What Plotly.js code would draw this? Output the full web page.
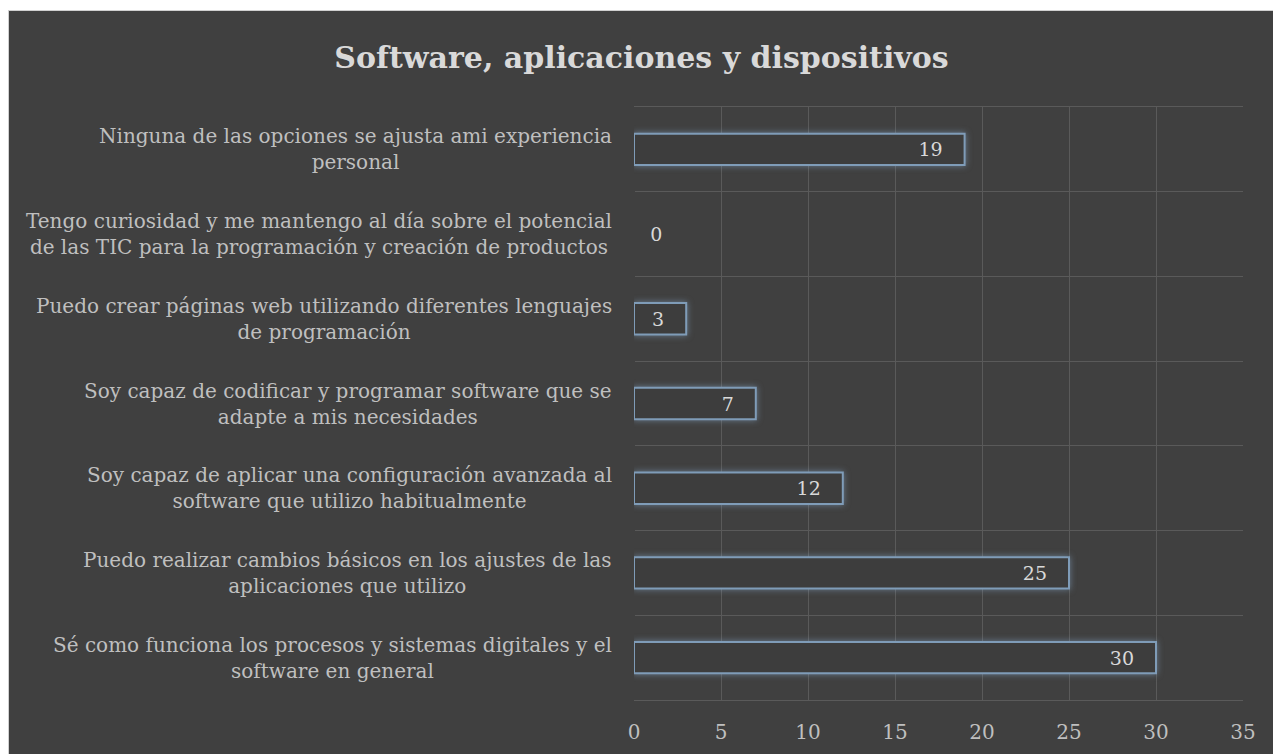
<!DOCTYPE html>
<html>
<head>
<meta charset="utf-8">
<script src="https://cdn.plot.ly/plotly-3.0.1.min.js"></script>
<style>
  html, body { margin: 0; padding: 0; background: #ffffff; overflow: hidden; width: 1273px; height: 754px; }
  #chart { position: absolute; left: 8px; top: 10px; width: 1265px; height: 744px;
           border-left: 1px solid #d0d0d0; border-top: 1px solid #d0d0d0; }
  #chart .bars .point path { filter: drop-shadow(0 0 3px rgba(140,175,210,0.55)); }
</style>
</head>
<body>
<div id="chart"></div>
<script>
const categories = [
  "Ninguna de las opciones se ajusta ami experiencia<br>personal",
  "Tengo curiosidad y me mantengo al día sobre el potencial<br>de las TIC para la programación y creación de productos",
  "Puedo crear páginas web utilizando diferentes lenguajes<br>de programación",
  "Soy capaz de codificar y programar software que se<br>adapte a mis necesidades",
  "Soy capaz de aplicar una configuración avanzada al<br>software que utilizo habitualmente",
  "Puedo realizar cambios básicos en los ajustes de las<br>aplicaciones que utilizo",
  "Sé como funciona los procesos y sistemas digitales y el<br>software en general"
];
const values = [19, 0, 3, 7, 12, 25, 30];
const xTicks = [0, 5, 10, 15, 20, 25, 30, 35];
const chartTitle = "Software, aplicaciones y dispositivos";

const FONT = "DejaVu Serif";
const textPos = values.map(v => v === 0 ? "outside" : "inside");
const labels = values.map(v => v === 0 ? "\u2002\u2009" + v : v + "\u2002\u2002");

const trace = {
  type: "bar",
  orientation: "h",
  y: categories,
  x: values,
  text: labels,
  textposition: textPos,
  insidetextanchor: "end",
  textfont: { family: FONT, size: 19, color: "#d9d9d9" },
  outsidetextfont: { family: FONT, size: 19, color: "#d9d9d9" },
  insidetextfont: { family: FONT, size: 19, color: "#d9d9d9" },
  cliponaxis: false,
  marker: { color: "#3d3d3d",
            line: { color: "#7f9cb8", width: values.map(v => v === 0 ? 0 : 2) } },
  hoverinfo: "none"
};

const annotations = categories.map(c => ({
  xref: "paper", yref: "y", x: 0, y: c, xanchor: "right", yanchor: "middle",
  xshift: -20, text: c, showarrow: false, align: "center",
  font: { family: FONT, size: 20, color: "#bfbfbf" }
}));

const layout = {
  width: 1265, height: 744,
  paper_bgcolor: "#404040", plot_bgcolor: "#404040",
  margin: { l: 625, r: 31, t: 96, b: 55 },
  title: { text: "<b>" + chartTitle + "</b>", x: 0.5, xanchor: "center", y: 0.937, yanchor: "middle",
           font: { family: FONT, size: 30, color: "#d9d9d9" } },
  bargap: 0.63,
  showlegend: false,
  xaxis: {
    range: [0, 35], tickvals: xTicks, ticktext: xTicks.map(String),
    showgrid: true, gridcolor: "#5a5a5a", gridwidth: 1,
    zeroline: true, zerolinecolor: "#404040",
    showline: true, mirror: true, linecolor: "#5a5a5a", linewidth: 1, ticks: "",
    ticklabelstandoff: 14,
    tickfont: { family: FONT, size: 20, color: "#bfbfbf" }, fixedrange: true
  },
  yaxis: {
    type: "category", autorange: "reversed", tickson: "boundaries",
    showgrid: true, gridcolor: "#5a5a5a", gridwidth: 1,
    showticklabels: false, ticks: "", showline: false, zeroline: false, fixedrange: true
  },
  annotations: annotations
};

Plotly.newPlot("chart", [trace], layout, { displayModeBar: false, staticPlot: true });
</script>
</body>
</html>
